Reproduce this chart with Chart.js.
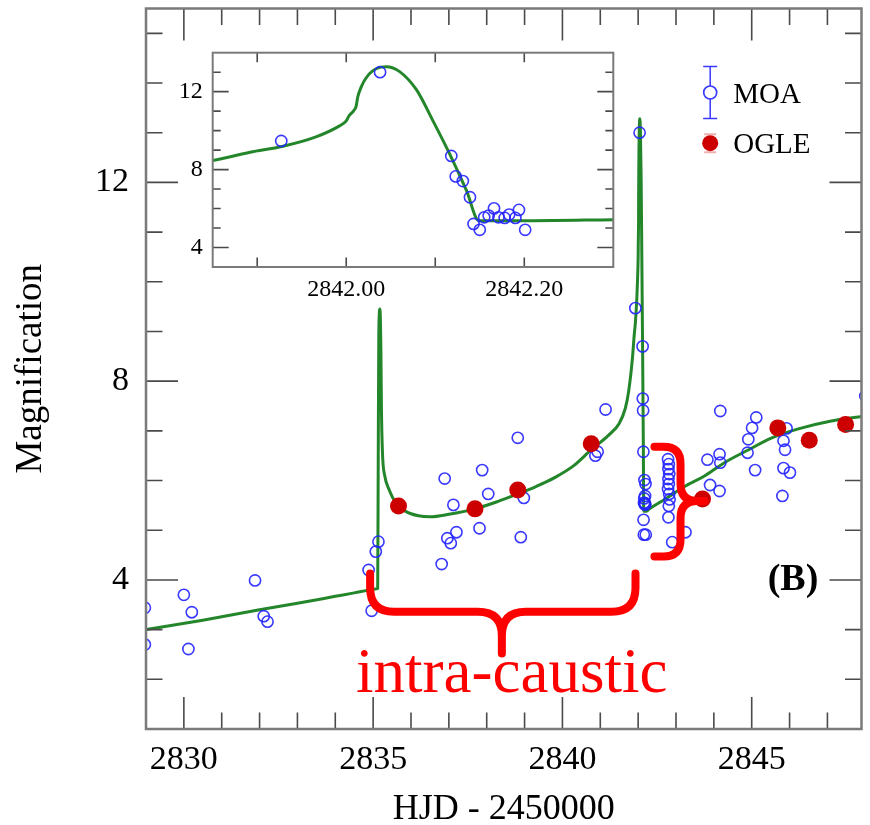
<!DOCTYPE html>
<html>
<head>
<meta charset="utf-8">
<title>MOA / OGLE light curve</title>
<script src="https://cdn.jsdelivr.net/npm/chart.js@4.4.1/dist/chart.umd.min.js"></script>
<style>
  html, body { margin: 0; padding: 0; background: #fff; }
  #wrap { position: relative; width: 870px; height: 825px; overflow: hidden; }
  #mainChart { position: absolute; left: 0; top: 0; }
  #zoomChart { position: absolute; left: 150px; top: 40px; }
</style>
</head>
<body>
<div id="wrap">
  <canvas id="mainChart" width="870" height="825"></canvas>
  <canvas id="zoomChart" width="480" height="265"></canvas>
</div>
<script>
// HJD - 2450000 against magnification
const moaDays = [
  2828.97, 2828.97, 2830.00, 2830.12, 2830.21, 2831.88, 2832.11, 2832.21,
  2834.88, 2834.96, 2835.07, 2835.14,
  2836.81, 2836.89, 2836.96, 2837.05, 2837.12, 2837.20, 2837.81, 2837.88,
  2838.04, 2838.82, 2838.90, 2838.98, 2840.87, 2840.93, 2841.14,
  2841.927, 2842.038, 2842.118, 2842.123, 2842.131, 2842.139, 2842.143, 2842.150,
  2842.155, 2842.160, 2842.166, 2842.171, 2842.178, 2842.183, 2842.190, 2842.194, 2842.201,
  2842.79, 2842.81, 2842.80, 2842.82, 2842.80, 2842.81, 2842.79, 2842.82, 2842.83,
  2842.81, 2842.80, 2842.90, 2843.25,
  2843.83, 2843.90, 2844.15, 2844.17, 2844.15, 2844.17,
  2844.89, 2844.91, 2845.01, 2845.12, 2845.09,
  2845.81, 2845.84, 2845.84, 2845.88, 2845.92, 2846.01, 2848.00
];
const moaMag = [
  3.44, 2.70, 3.70, 2.61, 3.35, 3.99, 3.27, 3.16,
  4.20, 3.38, 4.57, 4.77,
  4.32, 6.04, 4.84, 4.74, 5.51, 4.96, 5.04, 6.21,
  5.73, 6.86, 4.86, 5.65, 6.50, 6.58, 7.43,
  9.47, 13.00, 8.70, 7.65, 7.41, 6.58, 5.21, 4.91,
  5.55, 5.64, 6.01, 5.55, 5.52, 5.69, 5.52, 5.93, 4.91,
  6.43, 6.33, 6.23, 6.13, 6.03, 5.93, 5.83, 5.73, 5.62,
  5.49, 5.26, 4.76, 4.96,
  6.42, 5.91, 6.53, 6.36, 5.79, 7.40,
  6.56, 6.83, 7.06, 7.27, 6.21,
  5.69, 6.25, 6.80, 6.62, 7.05, 6.16, 7.70
];

const ogleDays = [2835.67, 2837.69, 2838.82, 2840.76, 2843.70, 2845.69, 2846.52, 2847.48];
const ogleMag = [5.49, 5.43, 5.81, 6.74, 5.63, 7.06, 6.81, 7.13];

// binary-lens model curve
const modelDays = [
  2829.00, 2830.50, 2832.00, 2833.00, 2834.00, 2834.50, 2834.90, 2835.05,
  2835.12, 2835.135, 2835.15, 2835.18,
  2835.205, 2835.22, 2835.25, 2835.30, 2835.43, 2835.60, 2835.86, 2836.20,
  2836.50, 2837.00, 2837.69, 2838.30, 2838.82, 2839.30, 2839.82, 2840.30,
  2840.76, 2841.20, 2841.50, 2841.66, 2841.75, 2841.85, 2841.892, 2841.929,
  2841.966, 2841.992, 2842.000, 2842.003, 2842.008, 2842.011, 2842.013, 2842.017,
  2842.022, 2842.030, 2842.039, 2842.045, 2842.060, 2842.079, 2842.097, 2842.116,
  2842.135, 2842.149, 2842.209, 2842.300, 2842.70, 2843.25, 2843.73, 2844.30,
  2844.92, 2845.50, 2846.23, 2847.10, 2848.00
];
const modelMag = [
  3.00, 3.19, 3.40, 3.53, 3.67, 3.74, 3.80, 3.82,
  3.83, 6.50, 9.00, 9.45,
  8.60, 7.40, 6.50, 6.12, 5.80, 5.55, 5.38, 5.29,
  5.27, 5.32, 5.43, 5.58, 5.73, 5.88, 6.07, 6.30,
  6.62, 6.90, 7.15, 7.45, 7.80, 8.47, 8.89, 9.20,
  9.68, 10.23, 10.50, 10.75, 11.00, 11.23, 11.74, 12.26,
  12.69, 13.08, 13.26, 13.28, 13.03, 12.09, 10.54, 8.82,
  6.93, 5.38, 5.38, 5.43, 5.62, 5.89, 6.08, 6.37,
  6.62, 6.85, 7.04, 7.20, 7.30
];

const xTickLabels = [2830, 2835, 2840, 2845];
const yTickLabels = [4, 8, 12];
const xMinorTicks = [2830, 2831, 2832, 2833, 2834, 2835, 2836, 2837, 2838, 2839,
                     2840, 2841, 2842, 2843, 2844, 2845, 2846, 2847];
const yMinorTicks = [2, 3, 4, 5, 6, 7, 8, 9, 10, 11, 12, 13, 14, 15];

const zoomXTickLabels = [2842.00, 2842.20];
const zoomYTickLabels = [4, 8, 12];
const zoomXTicks = [2841.90, 2842.00, 2842.10, 2842.20];
const zoomYTicks = [4, 5, 6, 7, 8, 9, 10, 11, 12, 13];

const SERIF = '"Liberation Serif", "Times New Roman", serif';
const GREEN = '#24862a';
const BLUE = 'rgba(35, 35, 255, 0.9)';
const DOT_RED = '#cc0000';
const NOTE_RED = '#ff0000';

function toPoints(xs, ys) {
    return xs.map((x, i) => ({ x: x, y: ys[i] }));
}

// keep the plot box where the layout puts it: no extra room for edge labels
function noEdgePadding(scale) {
    scale.paddingTop = 0;
    scale.paddingBottom = 0;
    scale.paddingLeft = 0;
    scale.paddingRight = 0;
}

// frame and inward ticks on all four sides
function frameTicks(cfg) {
    return {
        id: 'frameTicks',
        beforeDraw(chart) {
            if (!cfg.fillArea) return;
            const { ctx, chartArea: a } = chart;
            ctx.save();
            ctx.fillStyle = '#fff';
            ctx.fillRect(a.left, a.top, a.right - a.left, a.bottom - a.top);
            ctx.restore();
        },
        afterDatasetsDraw(chart) {
            const { ctx, chartArea: a, scales } = chart;
            ctx.save();
            ctx.beginPath();
            cfg.xTicks.forEach(v => {
                const px = scales.x.getPixelForValue(v);
                const len = cfg.xMajor.includes(v) ? cfg.xLong : cfg.xShort;
                ctx.moveTo(px, a.bottom); ctx.lineTo(px, a.bottom - len);
                ctx.moveTo(px, a.top); ctx.lineTo(px, a.top + len);
            });
            cfg.yTicks.forEach(v => {
                const py = scales.y.getPixelForValue(v);
                const len = cfg.yMajor.includes(v) ? cfg.yLong : cfg.yShort;
                ctx.moveTo(a.left, py); ctx.lineTo(a.left + len, py);
                ctx.moveTo(a.right, py); ctx.lineTo(a.right - len, py);
            });
            ctx.strokeStyle = '#4a4a4a';
            ctx.lineWidth = 1.6;
            ctx.stroke();
            ctx.strokeStyle = '#7a7a7a';
            ctx.lineWidth = cfg.frameWidth;
            ctx.strokeRect(a.left, a.top, a.right - a.left, a.bottom - a.top);
            ctx.restore();
        }
    };
}

// where the braces and labels sit, in data units
const braceH = { from: 2834.92, to: 2841.93, tip: 2838.40, top: 4.13, bar: 3.36, end: 2.52 };
const braceV = { left: 2842.43, spine: 2843.12, tip: 2843.75, top: 6.68, mid: 5.59, bottom: 4.47 };
const noteText = { x: 2838.66, y: 1.74 };
const panelText = { x: 2846.09, y: 3.79 };

const notes = {
    id: 'notes',
    afterDraw(chart) {
        const { ctx, chartArea: a, scales: { x, y } } = chart;
        ctx.save();

        // legend
        const lx = a.right - 151.3;
        const moaY = a.top + 84;
        const ogleY = a.top + 134.7;
        ctx.strokeStyle = BLUE;
        ctx.lineWidth = 1.5;
        ctx.beginPath();
        ctx.moveTo(lx, moaY - 26); ctx.lineTo(lx, moaY - 6.5);
        ctx.moveTo(lx, moaY + 6.5); ctx.lineTo(lx, moaY + 26);
        ctx.moveTo(lx - 7, moaY - 26); ctx.lineTo(lx + 7, moaY - 26);
        ctx.moveTo(lx - 7, moaY + 26); ctx.lineTo(lx + 7, moaY + 26);
        ctx.stroke();
        ctx.lineWidth = 1.7;
        ctx.beginPath();
        ctx.arc(lx, moaY, 6.5, 0, Math.PI * 2);
        ctx.stroke();

        ctx.strokeStyle = 'rgba(220, 80, 80, 0.45)';
        ctx.lineWidth = 2;
        ctx.beginPath();
        ctx.moveTo(lx - 6, ogleY - 9); ctx.lineTo(lx + 6, ogleY - 9);
        ctx.moveTo(lx - 6, ogleY + 9); ctx.lineTo(lx + 6, ogleY + 9);
        ctx.stroke();
        ctx.fillStyle = DOT_RED;
        ctx.beginPath();
        ctx.arc(lx, ogleY, 8, 0, Math.PI * 2);
        ctx.fill();

        ctx.fillStyle = '#000';
        ctx.font = '29px ' + SERIF;
        ctx.textAlign = 'left';
        ctx.textBaseline = 'alphabetic';
        ctx.fillText('MOA', lx + 23, moaY + 10.7);
        ctx.fillText('OGLE', lx + 23, ogleY + 10);

        // panel tag
        ctx.font = 'bold 38px ' + SERIF;
        ctx.textAlign = 'center';
        ctx.fillText('(B)', x.getPixelForValue(panelText.x), y.getPixelForValue(panelText.y));

        // braces
        ctx.strokeStyle = NOTE_RED;
        ctx.lineWidth = 8;
        ctx.lineCap = 'round';
        ctx.lineJoin = 'round';

        const L = x.getPixelForValue(braceH.from), R = x.getPixelForValue(braceH.to);
        const M = x.getPixelForValue(braceH.tip);
        const T = y.getPixelForValue(braceH.top), B = y.getPixelForValue(braceH.bar);
        const E = y.getPixelForValue(braceH.end);
        let r = 24;
        ctx.beginPath();
        ctx.moveTo(L, T);
        ctx.lineTo(L, B - r);
        ctx.quadraticCurveTo(L, B, L + r, B);
        ctx.lineTo(M - r, B);
        ctx.quadraticCurveTo(M, B, M, B + r);
        ctx.lineTo(M, E);
        ctx.moveTo(M, B + r);
        ctx.quadraticCurveTo(M, B, M + r, B);
        ctx.lineTo(R - r, B);
        ctx.quadraticCurveTo(R, B, R, B - r);
        ctx.lineTo(R, T);
        ctx.stroke();

        const Lp = x.getPixelForValue(braceV.left), S = x.getPixelForValue(braceV.spine);
        const Tp = x.getPixelForValue(braceV.tip);
        const Ty = y.getPixelForValue(braceV.top), My = y.getPixelForValue(braceV.mid);
        const By = y.getPixelForValue(braceV.bottom);
        r = 17;
        ctx.beginPath();
        ctx.moveTo(Lp, Ty);
        ctx.lineTo(S - r, Ty);
        ctx.quadraticCurveTo(S, Ty, S, Ty + r);
        ctx.lineTo(S, My - r);
        ctx.quadraticCurveTo(S, My, S + r, My);
        ctx.lineTo(Tp, My);
        ctx.moveTo(S + r, My);
        ctx.quadraticCurveTo(S, My, S, My + r);
        ctx.lineTo(S, By - r);
        ctx.quadraticCurveTo(S, By, S - r, By);
        ctx.lineTo(Lp, By);
        ctx.stroke();

        ctx.fillStyle = NOTE_RED;
        ctx.font = '63px ' + SERIF;
        ctx.textAlign = 'center';
        ctx.textBaseline = 'alphabetic';
        ctx.fillText('intra-caustic', x.getPixelForValue(noteText.x), y.getPixelForValue(noteText.y));

        ctx.restore();
    }
};

function seriesSets(moaRadius, ogleRadius) {
    return [
        {
            label: 'model',
            data: toPoints(modelDays, modelMag),
            showLine: true,
            borderColor: GREEN,
            borderWidth: 3,
            pointRadius: 0,
            cubicInterpolationMode: 'monotone',
            order: 3,
            clip: 0
        },
        {
            label: 'MOA',
            data: toPoints(moaDays, moaMag),
            pointRadius: moaRadius,
            borderColor: BLUE,
            backgroundColor: 'rgba(0, 0, 0, 0)',
            borderWidth: 1.6,
            order: 2,
            clip: 0
        },
        {
            label: 'OGLE',
            data: toPoints(ogleDays, ogleMag),
            pointRadius: ogleRadius,
            backgroundColor: DOT_RED,
            borderColor: DOT_RED,
            borderWidth: 0,
            order: 1,
            clip: 0
        }
    ];
}

const mainChart = new Chart(document.getElementById('mainChart'), {
    type: 'scatter',
    data: { datasets: seriesSets(5.6, 8.5) },
    options: {
        responsive: false,
        devicePixelRatio: 1,
        animation: false,
        layout: { padding: { top: 7, right: 7, left: 0, bottom: 0 } },
        plugins: { legend: { display: false }, tooltip: { enabled: false } },
        scales: {
            x: {
                type: 'linear',
                min: 2829,
                max: 2847.9,
                border: { display: false },
                grid: { display: false, drawTicks: false },
                ticks: {
                    autoSkip: false,
                    maxRotation: 0,
                    padding: 11,
                    color: '#000',
                    font: { family: SERIF, size: 34 },
                    callback: v => String(v)
                },
                title: {
                    display: true,
                    text: 'HJD - 2450000',
                    color: '#000',
                    font: { family: SERIF, size: 36, lineHeight: 1 },
                    padding: { top: 0, bottom: -3 }
                },
                afterBuildTicks: s => { s.ticks = xTickLabels.map(v => ({ value: v })); },
                afterFit: s => { s.height = 96; noEdgePadding(s); }
            },
            y: {
                type: 'linear',
                min: 1,
                max: 15.5,
                border: { display: false },
                grid: { display: false, drawTicks: false },
                ticks: {
                    autoSkip: false,
                    padding: 17,
                    color: '#000',
                    font: { family: SERIF, size: 34 },
                    callback: v => String(v)
                },
                title: {
                    display: true,
                    text: 'Magnification',
                    color: '#000',
                    font: { family: SERIF, size: 37, lineHeight: 1 },
                    padding: { top: 12.3, bottom: 0 }
                },
                afterBuildTicks: s => { s.ticks = yTickLabels.map(v => ({ value: v })); },
                afterFit: s => { s.width = 146; noEdgePadding(s); }
            }
        }
    },
    plugins: [
        frameTicks({
            xTicks: xMinorTicks, xMajor: xTickLabels, xLong: 32, xShort: 16.5,
            yTicks: yMinorTicks, yMajor: yTickLabels, yLong: 32, yShort: 16.5,
            frameWidth: 2.5, fillArea: false
        }),
        notes
    ]
});

const zoomChart = new Chart(document.getElementById('zoomChart'), {
    type: 'scatter',
    data: { datasets: seriesSets(5.6, 8.5) },
    options: {
        responsive: false,
        devicePixelRatio: 1,
        animation: false,
        layout: { padding: { top: 12.7, right: 16.7, left: 0, bottom: 0 } },
        plugins: { legend: { display: false }, tooltip: { enabled: false } },
        scales: {
            x: {
                type: 'linear',
                min: 2841.85,
                max: 2842.30,
                border: { display: false },
                grid: { display: false, drawTicks: false },
                ticks: {
                    autoSkip: false,
                    maxRotation: 0,
                    padding: 8,
                    color: '#000',
                    font: { family: SERIF, size: 24 },
                    callback: v => v.toFixed(2)
                },
                afterBuildTicks: s => { s.ticks = zoomXTickLabels.map(v => ({ value: v })); },
                afterFit: s => { s.height = 38; noEdgePadding(s); }
            },
            y: {
                type: 'linear',
                min: 3,
                max: 14,
                border: { display: false },
                grid: { display: false, drawTicks: false },
                ticks: {
                    autoSkip: false,
                    padding: 10,
                    color: '#000',
                    font: { family: SERIF, size: 24 },
                    callback: v => String(v)
                },
                afterBuildTicks: s => { s.ticks = zoomYTickLabels.map(v => ({ value: v })); },
                afterFit: s => { s.width = 62.7; noEdgePadding(s); }
            }
        }
    },
    plugins: [
        frameTicks({
            xTicks: zoomXTicks, xMajor: [], xLong: 10, xShort: 9.5,
            yTicks: zoomYTicks, yMajor: zoomYTickLabels, yLong: 16, yShort: 8,
            frameWidth: 2, fillArea: true
        })
    ]
});
</script>
</body>
</html>
